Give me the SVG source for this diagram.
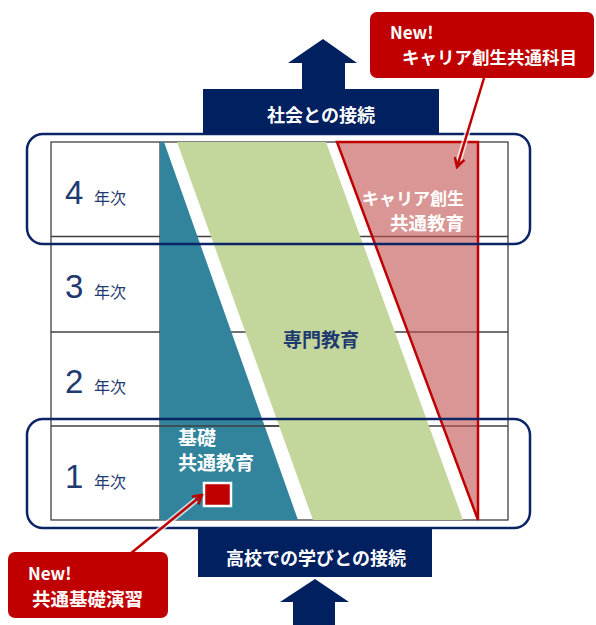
<svg xmlns="http://www.w3.org/2000/svg" width="596" height="625" viewBox="0 0 596 625">
<defs>
<style>
.jp{font-family:"Noto Sans CJK JP","Noto Sans",sans-serif;}
.wb{fill:#fff;font-weight:bold;}
.nv{fill:#1F3A70;}
.row{stroke:#404040;stroke-width:1.3;fill:none;}
.band{fill:none;stroke:#0B2466;stroke-width:2.5;}
.bar{fill:#002060;}
.callout{fill:#C00000;}
.rl{stroke:#C00000;stroke-width:2.5;fill:none;}
.glow{stroke:#fff;stroke-width:6;opacity:0.7;fill:none;}
.dg{font-family:"Liberation Sans",Arial,sans-serif;font-size:33px;fill:#1F3A70;}
</style>
<marker id="ah" viewBox="0 0 12 12" refX="10" refY="6" markerWidth="12" markerHeight="12" markerUnits="userSpaceOnUse" orient="auto">
<polyline points="1,1 10,6 1,11" fill="none" stroke="#C00000" stroke-width="2.5"/>
</marker>
</defs>
<rect width="596" height="625" fill="#fff"/>

<g id="table">
<rect x="51" y="142" width="457" height="378" class="row"/>
<line x1="160" y1="142" x2="160" y2="520" class="row"/>
<line x1="51" y1="236.5" x2="508" y2="236.5" class="row"/>
<line x1="51" y1="332" x2="508" y2="332" class="row"/>
<line x1="51" y1="426" x2="508" y2="426" class="row"/>
</g>

<g id="kiso-area">
<polygon points="160,142 164,142 298,520 160,520" fill="#31849B"/>
<line x1="160" y1="426" x2="279" y2="426" class="row"/>
<text class="jp wb" x="178" y="445" font-size="19">基礎</text>
<text class="jp wb" x="178" y="470" font-size="19">共通教育</text>
</g>

<g id="senmon-area">
<polygon points="177,142 326,142 463,520 313,520" fill="#C3D69B"/>
<text class="jp" x="321" y="347" font-size="19" font-weight="bold" fill="#1F3A70" text-anchor="middle">専門教育</text>
</g>

<g id="career-area">
<polygon points="337,142 478,142 478,520" fill="#C0504D" fill-opacity="0.6" stroke="#C00000" stroke-width="2.5" stroke-linejoin="miter"/>
<text class="jp wb" x="464" y="205" font-size="17" text-anchor="end">キャリア創生</text>
<text class="jp wb" x="464" y="230" font-size="18.5" text-anchor="end">共通教育</text>
</g>

<g id="year4"><text class="dg" x="65" y="204">4</text><text class="jp nv" x="94" y="204" font-size="16">年次</text></g>
<g id="year3"><text class="dg" x="65" y="298">3</text><text class="jp nv" x="94" y="298" font-size="16">年次</text></g>
<g id="year2"><text class="dg" x="65" y="393">2</text><text class="jp nv" x="94" y="393" font-size="16">年次</text></g>
<g id="year1"><text class="dg" x="65" y="488">1</text><text class="jp nv" x="94" y="488" font-size="16">年次</text></g>

<g id="band-top"><rect x="27" y="134" width="503" height="110" rx="16" class="band"/></g>
<g id="band-bottom"><rect x="27" y="419" width="503" height="109" rx="16" class="band"/></g>

<g id="kiso-marker">
<rect x="204" y="483" width="27" height="23" fill="#C00000" stroke="#fff" stroke-width="2.5"/>
</g>

<g id="society">
<polygon points="323,39 357,63 345,63 345,90 302,90 302,63 288,63" class="bar"/>
<rect x="203" y="89" width="236" height="45" class="bar"/>
<text class="jp wb" x="321" y="122" font-size="18" text-anchor="middle">社会との接続</text>
</g>

<g id="highschool">
<rect x="198" y="528" width="234" height="49" class="bar"/>
<text class="jp wb" x="316" y="565" font-size="18" text-anchor="middle">高校での学びとの接続</text>
<polygon points="315,579 349,602 335,602 335,625 293,625 293,602 280,602" class="bar"/>
</g>

<g id="connectors">
<line x1="484" y1="78" x2="459" y2="160" class="glow"/>
<line x1="484" y1="78" x2="457" y2="167" class="rl" marker-end="url(#ah)"/>
<line x1="130" y1="554" x2="196" y2="500" class="glow"/>
<line x1="130" y1="554" x2="202" y2="495" class="rl" marker-end="url(#ah)"/>
</g>

<g id="callout-career">
<rect x="370" y="12" width="224" height="66" rx="7" class="callout"/>
<text class="jp wb" x="390" y="39" font-size="17">New!</text>
<text class="jp wb" x="402" y="64" font-size="17.5">キャリア創生共通科目</text>
</g>

<g id="callout-kiso">
<rect x="8" y="552" width="160" height="66" rx="7" class="callout"/>
<text class="jp wb" x="28" y="580" font-size="17">New!</text>
<text class="jp wb" x="32" y="606" font-size="18.5">共通基礎演習</text>
</g>
</svg>
